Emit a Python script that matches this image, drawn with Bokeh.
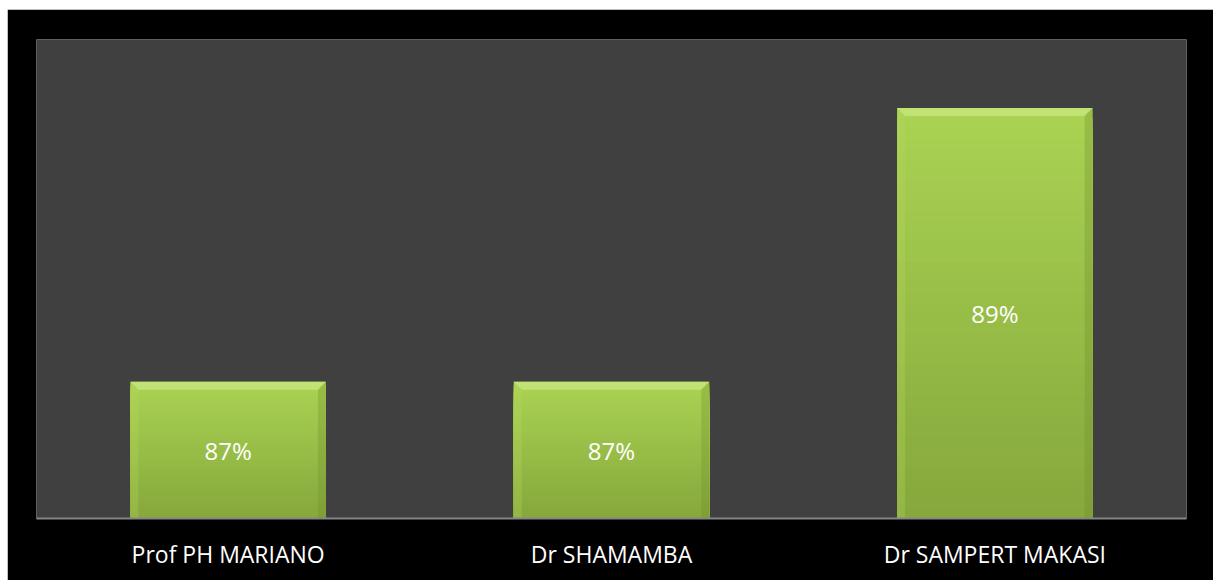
from bokeh.plotting import figure
from bokeh.models import ColumnDataSource, FactorRange, Range1d
from bokeh.core.properties import value
from bokeh.embed import file_html
from bokeh.resources import INLINE

categories = ["Prof PH MARIANO", "Dr SHAMAMBA", "Dr SAMPERT MAKASI"]
values = [87, 87, 89]
labels = ["87%", "87%", "89%"]

y_min, y_max = 86, 89.5
bar_w = 0.51

W, H = 1206, 571
BL, BR, BT, BB = 29, 27, 30, 62

p = figure(width=W, height=H, output_backend="svg", toolbar_location=None,
           x_range=FactorRange(*categories, range_padding=0),
           y_range=Range1d(y_min, y_max),
           background_fill_color="#404040", border_fill_color="#000000",
           min_border_left=BL, min_border_right=BR, min_border_top=BT, min_border_bottom=BB)
p.styles = {"margin-left": "7px", "margin-top": "9px"}
p.outline_line_color = None
p.grid.visible = False
p.yaxis.visible = False

def mix(c1, c2, t):
    r = [int(round(c1[i] + (c2[i] - c1[i]) * t)) for i in range(3)]
    return "#%02x%02x%02x" % tuple(r)

bot_c = (0x86, 0xa8, 0x3c)
top_c = (0xaa, 0xd3, 0x53)

# vertical gradient: stacked overlapping slices from base, tallest first
N = 40
xs, tops, bots, cols = [], [], [], []
for k in range(N - 1, -1, -1):
    for c, v in zip(categories, values):
        h = (v - y_min) / N
        xs.append(c)
        bots.append(y_min)
        tops.append(y_min + (k + 1) * h)
        cols.append(mix(bot_c, top_c, k / (N - 1)))
p.vbar(x=xs, top=tops, bottom=bots, width=bar_w, fill_color=cols, line_color=None)

# bevel edges (derived from data)
px_per_y = (H - BT - BB) / (y_max - y_min)
px_per_x = (W - BL - BR) / len(categories)
by = 8 / px_per_y
bx = 8 / px_per_x
top_xs, top_ys, l_xs, l_ys, r_xs, r_ys = [], [], [], [], [], []
for i, v in enumerate(values):
    c = categories[i]
    x0, x1 = -bar_w / 2, bar_w / 2
    top_xs.append([(c, x0), (c, x1), (c, x1 - bx), (c, x0 + bx)])
    top_ys.append([v, v, v - by, v - by])
    l_xs.append([(c, x0), (c, x0 + bx), (c, x0 + bx), (c, x0)])
    l_ys.append([v, v - by, y_min, y_min])
    r_xs.append([(c, x1), (c, x1 - bx), (c, x1 - bx), (c, x1)])
    r_ys.append([v, v - by, y_min, y_min])

p.patches(xs=top_xs, ys=top_ys, fill_color="#c4e57a", fill_alpha=0.85, line_color=None)
p.patches(xs=l_xs, ys=l_ys, fill_color="#b6d85e", fill_alpha=0.3, line_color=None)
p.patches(xs=r_xs, ys=r_ys, fill_color="#6f8c2c", fill_alpha=0.3, line_color=None)

mids = [(v + y_min) / 2 for v in values]
src = ColumnDataSource(dict(x=categories, y=mids, t=labels))
p.text(x="x", y="y", text="t", source=src, text_align="center", text_baseline="middle",
       text_color="#ffffff", text_font_size="24px", text_font=value("Open Sans"))

ax = p.xaxis[0]
ax.axis_line_color = "#868686"
ax.axis_line_width = 2
ax.major_tick_line_color = None
ax.minor_tick_line_color = None
ax.major_label_standoff = 13
ax.major_label_text_color = "#ffffff"
ax.major_label_text_font = "Open Sans"
ax.major_label_text_font_size = "23px"

open("out.html", "w").write(file_html(p, INLINE))
